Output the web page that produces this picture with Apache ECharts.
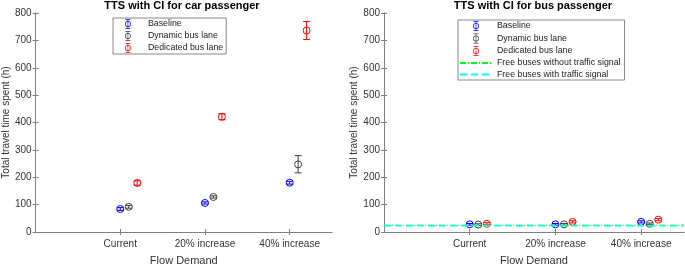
<!DOCTYPE html>
<html>
<head>
<meta charset="utf-8">
<script src="https://cdn.jsdelivr.net/npm/echarts@6/dist/echarts.min.js"></script>
<style>
  html, body { margin: 0; padding: 0; background: #fff; }
  #chart { width: 685px; height: 271px; }
</style>
</head>
<body>
<div id="chart"></div>
<script>
// categories sit at x = 1, 2, 3 on a 0..3.5 numeric axis
var categories = ['Current', '20% increase', '40% increase'];
var catPos = [1, 2, 3];
var seriesNames = ['Baseline', 'Dynamic bus lane', 'Dedicated bus lane'];
var seriesOffset = [0, 0.1, 0.2];
var seriesColors = ['#0000ff', '#404040', '#ff0000'];

// car passenger: mean, lower, upper
var carMean = [[84, 106, 180], [92, 128, 247], [179, 421, 736]];
var carLow  = [[79, 102, 175], [87, 124, 216], [171, 410, 703]];
var carHigh = [[89, 110, 185], [97, 132, 279], [187, 432, 769]];

// bus passenger
var busMean = [[28, 28, 37], [27, 28, 30], [30, 37, 45]];
var busLow  = [[25, 25, 33], [24, 25, 27], [26, 33, 41]];
var busHigh = [[31, 31, 41], [30, 31, 33], [34, 41, 49]];

var freeNoSignal = 25;
var freeSignal = 23;

var textColor = '#333';
var axisColor = '#808080';

// legend icon: open circle with an error bar through it
var errIcon = 'path://M4.6,0 H5.4 V12 H4.6 Z M2,0 H8 V0.8 H2 Z M2,11.2 H8 V12 H2 Z ' +
  'M8.5,6 A3.5,3.5 0 1 1 1.5,6 A3.5,3.5 0 1 1 8.5,6 Z ' +
  'M7.7,6 A2.7,2.7 0 1 0 2.3,6 A2.7,2.7 0 1 0 7.7,6 Z';

function errorSeries(gridIdx, s, means, lows, highs) {
  var data = [];
  for (var i = 0; i < catPos.length; i++) {
    data.push([catPos[i] + seriesOffset[s], means[s][i], lows[s][i], highs[s][i]]);
  }
  return {
    type: 'custom',
    name: seriesNames[s],
    xAxisIndex: gridIdx * 2,
    yAxisIndex: gridIdx * 2,
    data: data,
    z: 3,
    itemStyle: { color: seriesColors[s] },
    renderItem: function (params, api) {
      var lo = api.coord([api.value(0), api.value(2)]);
      var hi = api.coord([api.value(0), api.value(3)]);
      var c = api.coord([api.value(0), api.value(1)]);
      var w = 3.5;
      var st = { stroke: seriesColors[s], lineWidth: 1, fill: null };
      return {
        type: 'group',
        children: [
          { type: 'line', shape: { x1: lo[0], y1: lo[1], x2: hi[0], y2: hi[1] }, style: st },
          { type: 'line', shape: { x1: lo[0] - w, y1: lo[1], x2: lo[0] + w, y2: lo[1] }, style: st },
          { type: 'line', shape: { x1: hi[0] - w, y1: hi[1], x2: hi[0] + w, y2: hi[1] }, style: st },
          { type: 'circle', shape: { cx: c[0], cy: c[1], r: 3.5 }, style: st }
        ]
      };
    }
  };
}

function makeAxes(gridIdx) {
  var xa = [
    {
      type: 'value', gridIndex: gridIdx, min: 0, max: 3.5,
      name: 'Flow Demand', nameLocation: 'middle', nameGap: 23,
      nameTextStyle: { fontSize: 11, color: textColor, fontFamily: 'Liberation Sans' },
      axisLine: { show: true, lineStyle: { color: axisColor } },
      axisTick: { show: true, inside: true, length: 3, lineStyle: { color: axisColor },
        customValues: catPos },
      axisLabel: { fontSize: 10, color: textColor, fontFamily: 'Liberation Sans', margin: 7,
        customValues: catPos,
        formatter: function (v) { var k = catPos.indexOf(v); return k >= 0 ? categories[k] : ''; } },
      splitLine: { show: false }
    },
    {
      type: 'value', gridIndex: gridIdx, min: 0, max: 3.5, position: 'top',
      axisLine: { show: true, lineStyle: { color: axisColor } },
      axisTick: { show: true, inside: true, length: 3, lineStyle: { color: axisColor },
        customValues: catPos },
      axisLabel: { show: false }, splitLine: { show: false }
    }
  ];
  var ya = [
    {
      type: 'value', gridIndex: gridIdx, min: 0, max: 800, interval: 100,
      name: 'Total travel time spent (h)', nameLocation: 'middle', nameGap: 21,
      nameTextStyle: { fontSize: 10, color: textColor, fontFamily: 'Liberation Sans' },
      axisLine: { show: true, lineStyle: { color: axisColor } },
      axisTick: { show: true, inside: true, length: 3, lineStyle: { color: axisColor } },
      axisLabel: { fontSize: 10, color: textColor, fontFamily: 'Liberation Sans', margin: 4 },
      splitLine: { show: false }
    },
    {
      type: 'value', gridIndex: gridIdx, min: 0, max: 800, interval: 100, position: 'right',
      axisLine: { show: true, lineStyle: { color: axisColor } },
      axisTick: { show: true, inside: true, length: 3, lineStyle: { color: axisColor } },
      axisLabel: { show: false }, splitLine: { show: false }
    }
  ];
  return { x: xa, y: ya };
}

var a0 = makeAxes(0), a1 = makeAxes(1);

var series = [];
for (var s = 0; s < 3; s++) series.push(errorSeries(0, s, carMean, carLow, carHigh));
for (var s2 = 0; s2 < 3; s2++) series.push(errorSeries(1, s2, busMean, busLow, busHigh));
series.push({
  type: 'line', name: 'Free buses without traffic signal',
  xAxisIndex: 2, yAxisIndex: 2, symbol: 'none', z: 4,
  data: [[0, freeNoSignal], [3.5, freeNoSignal]],
  lineStyle: { color: '#00ff00', width: 1, type: [6, 2, 1, 2] },
  itemStyle: { color: '#00ff00' }
});
series.push({
  type: 'line', name: 'Free buses with traffic signal',
  xAxisIndex: 2, yAxisIndex: 2, symbol: 'none', z: 4,
  data: [[0, freeSignal], [3.5, freeSignal]],
  lineStyle: { color: '#00ffff', width: 1.5, type: [7, 4] },
  itemStyle: { color: '#00ffff' }
});

var legendCommon = {
  orient: 'vertical',
  backgroundColor: '#fff',
  borderColor: '#888',
  borderWidth: 1,
  itemGap: 2,
  itemHeight: 10,
  textStyle: { fontSize: 8.8, color: '#222', fontFamily: 'Liberation Sans' }
};

var errItems = seriesNames.map(function (n) { return { name: n, icon: errIcon }; });

var option = {
  animation: false,
  title: [
    { text: 'TTS with CI for car passenger', left: 182, top: 0, padding: 0, textAlign: 'center',
      textStyle: { fontSize: 11, fontWeight: 'bold', color: '#000', fontFamily: 'Liberation Sans' } },
    { text: 'TTS with CI for bus passenger', left: 533, top: 0, padding: 0, textAlign: 'center',
      textStyle: { fontSize: 11, fontWeight: 'bold', color: '#000', fontFamily: 'Liberation Sans' } }
  ],
  grid: [
    { left: 32, right: 353, top: 13, bottom: 34 },
    { left: 384, right: 1, top: 13, bottom: 34 }
  ],
  legend: [
    Object.assign({}, legendCommon, {
      left: 113, top: 18, itemWidth: 30, padding: [1, 3, 1, 12],
      data: errItems
    }),
    Object.assign({}, legendCommon, {
      left: 458, top: 20, itemWidth: 32, itemGap: 2.5, padding: [1, 4, 1, 1],
      data: errItems.concat([
        { name: 'Free buses without traffic signal', itemStyle: { opacity: 0 } },
        { name: 'Free buses with traffic signal', itemStyle: { opacity: 0 } }
      ])
    })
  ],
  xAxis: a0.x.concat(a1.x),
  yAxis: a0.y.concat(a1.y),
  series: series
};

var chart = echarts.init(document.getElementById('chart'));
chart.setOption(option);
</script>
</body>
</html>
